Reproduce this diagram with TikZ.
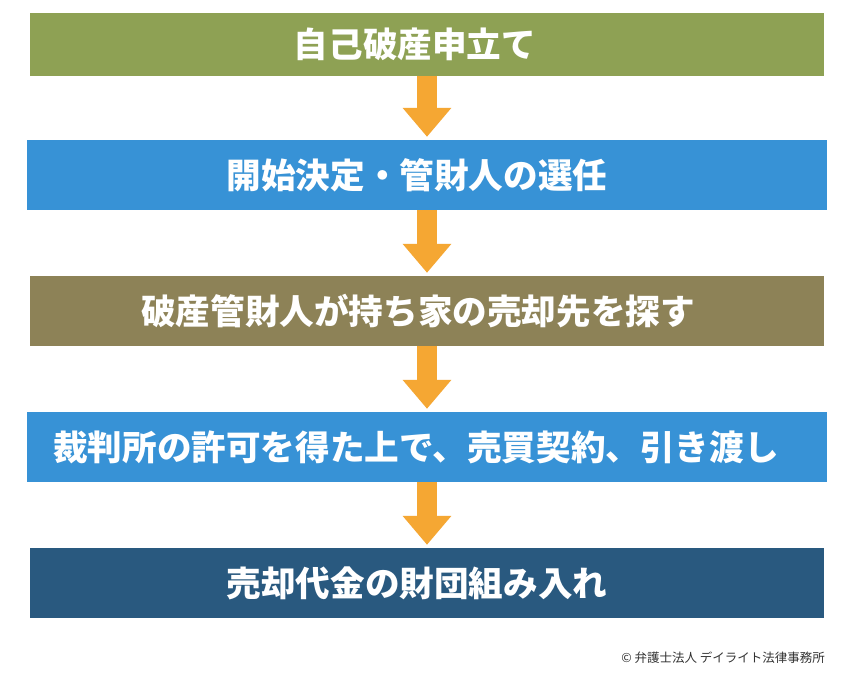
\documentclass[tikz,border=0pt]{standalone}
\usepackage{fontspec}
\newfontfamily\jp{Noto Sans CJK JP}
\usetikzlibrary{arrows.meta}
\definecolor{olive}{HTML}{8EA154}
\definecolor{bluebox}{HTML}{3792D6}
\definecolor{brownbox}{HTML}{8D8257}
\definecolor{darkbox}{HTML}{29597F}
\definecolor{orangearr}{HTML}{F5A733}
\definecolor{credit}{HTML}{333333}
\tikzset{
  stepbox/.style={inner sep=0pt, minimum width=794pt, minimum height=70pt},
  widebox/.style={stepbox, minimum width=800pt},
  steptext/.style={inner sep=0pt, text=white,
    font=\jp\bfseries\fontsize{34.6pt}{38pt}\selectfont},
  flowarrow/.style={draw=orangearr, line width=20pt, shorten >=3pt,
    -{Triangle[length=29pt, width=47pt]}, orangearr}
}
\begin{document}
\begin{tikzpicture}[x=1pt,y=-1pt]
\useasboundingbox (0,0) rectangle (850,686);
\fill[white] (0,0) rectangle (850,686);
\node[stepbox, fill=olive, minimum height=63pt] (b1) at (427,44.5) {};
\node[widebox, fill=bluebox] (b2) at (427,175) {};
\node[stepbox, fill=brownbox] (b3) at (427,311) {};
\node[widebox, fill=bluebox] (b4) at (427,447) {};
\node[stepbox, fill=darkbox] (b5) at (427,583) {};
\node[steptext] (t1) at ([xshift=-12pt]b1.center) {自己破産申立て};
\node[steptext] (t2) at ([xshift=-10pt]b2.center) {開始決定・管財人の選任};
\node[steptext] (t3) at ([xshift=-9pt]b3.center) {破産管財人が持ち家の売却先を探す};
\node[steptext] (t4) at ([xshift=-11pt]b4.center) {裁判所の許可を得た上で、売買契約、引き渡し};
\node[steptext] (t5) at ([xshift=-10pt]b5.center) {売却代金の財団組み入れ};
\draw[flowarrow] (b1.south) -- (b2.north);
\draw[flowarrow] (b2.south) -- (b3.north);
\draw[flowarrow] (b3.south) -- (b4.north);
\draw[flowarrow] (b4.south) -- (b5.north);
\node[anchor=east, inner sep=0pt, text=credit, font=\jp\fontsize{12.5pt}{14pt}\selectfont] (cr) at (825,658) {© 弁護士法人 デイライト法律事務所};
\end{tikzpicture}
\end{document}
